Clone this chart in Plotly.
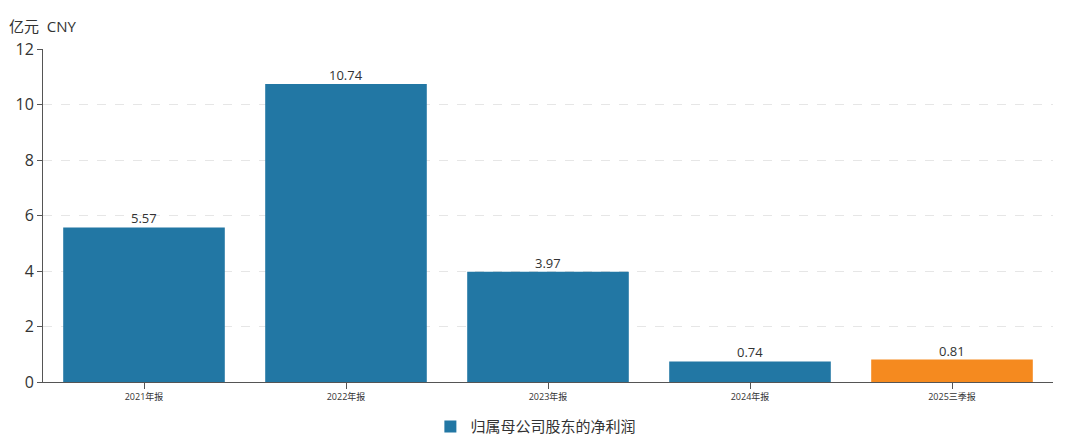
import plotly.graph_objects as go

categories = ["2021年报", "2022年报", "2023年报", "2024年报", "2025三季报"]
values = [5.57, 10.74, 3.97, 0.74, 0.81]
labels = ["5.57", "10.74", "3.97", "0.74", "0.81"]
series_name = "归属母公司股东的净利润"
y_ticks = [0, 2, 4, 6, 8, 10, 12]

BLUE = "#2277a4"
ORANGE = "#f58a1f"
colors = [BLUE, BLUE, BLUE, BLUE, ORANGE]

FONT = "Open Sans, Noto Sans CJK SC, sans-serif"

fig = go.Figure()
fig.add_trace(go.Bar(
    x=categories, y=values, name=series_name,
    marker=dict(color=colors, line=dict(width=0)),
    showlegend=True,
))

annotations = [dict(text="亿元  CNY", xref="paper", yref="paper", x=0, y=1,
                    xanchor="left", yanchor="bottom", xshift=-36, yshift=11,
                    showarrow=False, font=dict(size=15, color="#333333"))]
for c, v, t in zip(categories, values, labels):
    annotations.append(dict(x=c, y=v, text=t, xref="x", yref="y", showarrow=False,
                            yanchor="bottom", yshift=-2,
                            font=dict(size=13, color="#333333", family=FONT)))

fig.update_layout(
    width=1080, height=436,
    margin=dict(l=35, r=35, t=41, b=62, autoexpand=False),
    paper_bgcolor="white", plot_bgcolor="white",
    bargap=0.2,
    font=dict(family=FONT, color="#333333"),
    showlegend=True,
    legend=dict(orientation="h", x=0.488, xanchor="center", y=-0.085, yanchor="top",
                font=dict(size=15, color="#333333", family=FONT)),
    xaxis=dict(showline=True, linecolor="#555555", linewidth=1, ticks="outside",
               ticklen=6, tickcolor="#555555", tickfont=dict(size=9, color="#333333"),
               showgrid=False),
    yaxis=dict(range=[0, 12], tickvals=y_ticks, showline=True, linecolor="#555555",
               linewidth=1, ticks="outside", ticklen=5, tickcolor="#555555",
               tickfont=dict(size=16, color="#333333"),
               showgrid=True, gridcolor="#e6e6e6", griddash="dash", zeroline=False),
    annotations=annotations,
)

fig.write_html("out.html")
